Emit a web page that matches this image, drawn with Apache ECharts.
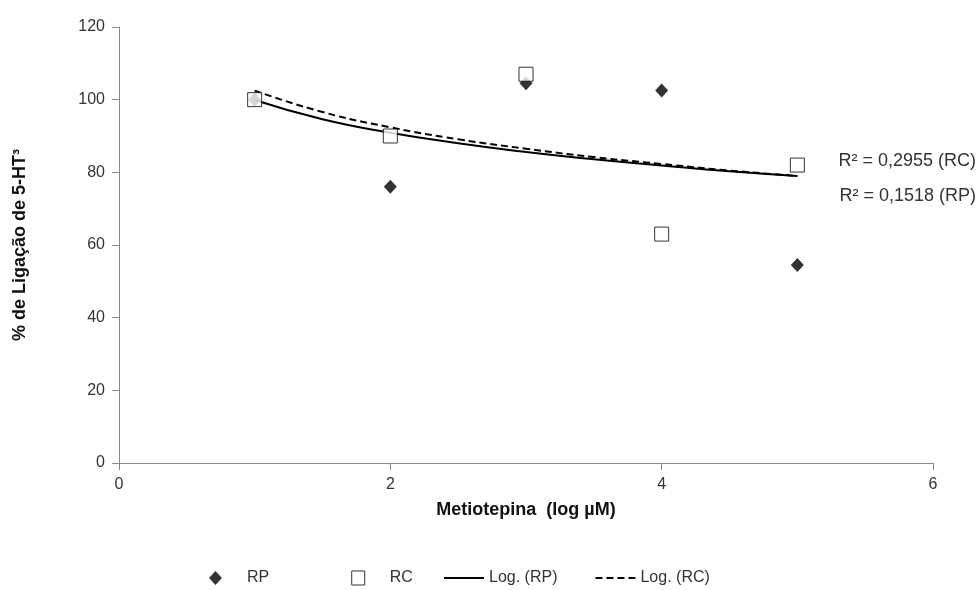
<!DOCTYPE html>
<html>
<head>
<meta charset="utf-8" />
<title>Metiotepina</title>
<script src="https://cdn.jsdelivr.net/npm/echarts@6/dist/echarts.min.js"></script>
<style>
  html, body { margin: 0; padding: 0; width: 100%; height: 100%; background: #fff; }
  #container { width: 980px; height: 590px; }
</style>
</head>
<body>
<div id="container"></div>
<script>
var xDoses = [1, 2, 3, 4, 5];
var rpValues = [100, 76, 104.5, 102.5, 54.5];
var rcValues = [100, 90, 107, 63, 82];

// trend lines
var trendX = [1, 1.5, 2, 2.5, 3, 3.5, 4, 4.5, 5];
var logRP = [99.9, 94.6, 90.9, 88.0, 85.6, 83.6, 81.9, 80.3, 79.0];
var logRC = [102.5, 96.6, 92.4, 89.1, 86.5, 84.2, 82.3, 80.5, 79.0];

var r2Labels = ['R² = 0,2955 (RC)', 'R² = 0,1518 (RP)'];

function pairs(xs, ys) {
  return xs.map(function (x, i) { return [x, ys[i]]; });
}

var font = 'Liberation Sans, Arial, sans-serif';
var dom = document.getElementById('container');
var myChart = echarts.init(dom);

var legendText = { fontSize: 16, color: '#333', fontFamily: font };

var option = {
  animation: false,
  backgroundColor: '#fff',
  textStyle: { fontFamily: font },
  grid: { left: 119, right: 47, top: 27, bottom: 127 },
  legend: [
    {
      // markers
      left: 209,
      top: 570,
      padding: 0,
      itemGap: 82,
      itemWidth: 13,
      itemHeight: 14,
      textStyle: { fontSize: 16, color: '#333', fontFamily: font, padding: [0, 0, 0, 20] },
      data: [
        { name: 'RP', icon: 'diamond' },
        { name: 'RC', icon: 'rect', itemStyle: { borderWidth: 1, borderColor: '#000', color: '#fff' } }
      ]
    },
    {
      // trend lines
      left: 443,
      top: 570,
      padding: 0,
      itemGap: 37,
      itemWidth: 40,
      itemHeight: 14,
      textStyle: legendText,
      data: ['Log. (RP)', 'Log. (RC)']
    }
  ],
  xAxis: {
    type: 'value',
    min: 0, max: 6, interval: 2,
    name: 'Metiotepina  (log µM)',
    nameLocation: 'middle',
    nameGap: 38,
    nameTextStyle: { fontSize: 18, fontWeight: 'bold', color: '#111', fontFamily: font },
    axisLine: { onZero: false, lineStyle: { color: '#888', width: 1 } },
    axisTick: { show: true, length: 7, lineStyle: { color: '#888' } },
    axisLabel: { fontSize: 16, color: '#333', margin: 14 },
    splitLine: { show: false }
  },
  yAxis: {
    type: 'value',
    min: 0, max: 120, interval: 20,
    name: '% de Ligação de 5-HT³',
    nameLocation: 'middle',
    nameGap: 90,
    nameRotate: 90,
    nameTextStyle: { fontSize: 18, fontWeight: 'bold', color: '#111', fontFamily: font },
    axisLine: { show: true, lineStyle: { color: '#888', width: 1 } },
    axisTick: { show: true, length: 7, lineStyle: { color: '#888' } },
    axisLabel: { fontSize: 16, color: '#333', margin: 14 },
    splitLine: { show: false }
  },
  series: [
    {
      name: 'Log. (RP)',
      type: 'line',
      data: pairs(trendX, logRP),
      smooth: true,
      symbol: 'none',
      lineStyle: { color: '#000', width: 2, type: 'solid' },
      itemStyle: { color: 'transparent', borderColor: 'transparent' },
      z: 2
    },
    {
      name: 'Log. (RC)',
      type: 'line',
      data: pairs(trendX, logRC),
      smooth: true,
      symbol: 'none',
      lineStyle: { color: '#000', width: 2, type: [7, 4] },
      itemStyle: { color: 'transparent', borderColor: 'transparent' },
      z: 2
    },
    {
      name: 'RP',
      type: 'scatter',
      data: pairs(xDoses, rpValues),
      symbol: 'diamond',
      symbolSize: [13, 14],
      itemStyle: { color: '#000' },
      z: 3
    },
    {
      name: 'RC',
      type: 'scatter',
      data: pairs(xDoses, rcValues),
      symbol: 'rect',
      symbolSize: 14,
      itemStyle: { color: '#fff', borderColor: '#000', borderWidth: 1 },
      z: 4
    }
  ],
  graphic: [
    {
      type: 'text', right: 4, top: 152,
      style: { text: r2Labels[0], font: '18px ' + font, fill: '#333' }
    },
    {
      type: 'text', right: 4, top: 187,
      style: { text: r2Labels[1], font: '18px ' + font, fill: '#333' }
    }
  ]
};

myChart.setOption(option);
</script>
</body>
</html>
